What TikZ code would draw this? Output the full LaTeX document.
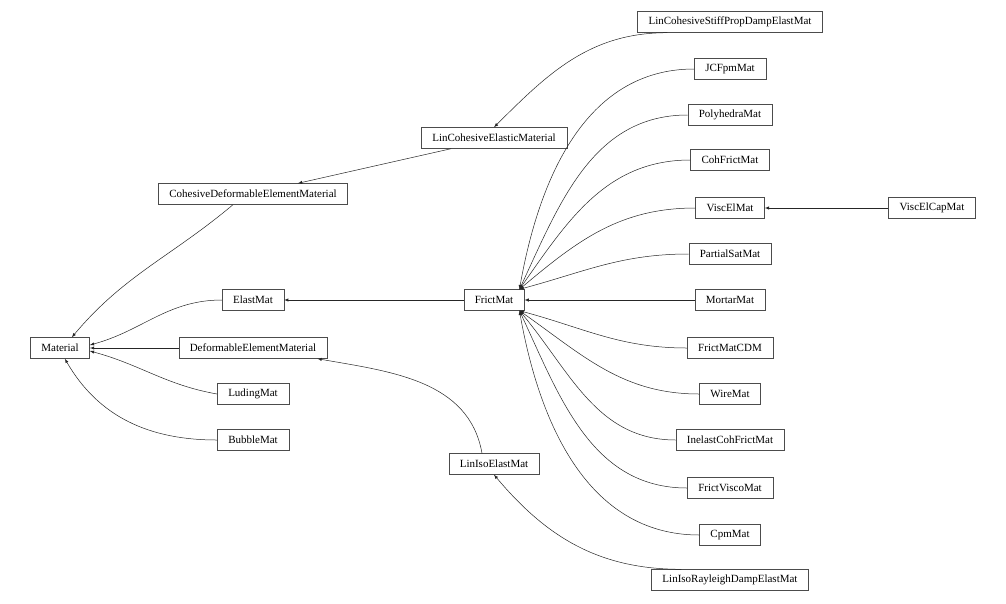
\documentclass[tikz,border=0pt]{standalone}
\usepackage{fontspec}
\setmainfont{Liberation Serif}
\usetikzlibrary{arrows}

\tikzset{
  cls/.style={draw=black!70, fill=white, font=\fontsize{11}{13}\selectfont,
    inner xsep=11pt, minimum height=21pt},
  inh/.style={-latex, black!85, line width=0.5pt}
}

\begin{document}
\begin{tikzpicture}[x=1pt, y=-1pt]
  \useasboundingbox (0,0) rectangle (1006,603);
  % classes
  \node[cls] (Material) at (60,348) {Material};
  \node[cls] (CohDefElemMat) at (253,194) {CohesiveDeformableElementMaterial};
  \node[cls] (ElastMat) at (253,300) {ElastMat};
  \node[cls] (DefElemMat) at (253,348) {DeformableElementMaterial};
  \node[cls] (LudingMat) at (253,394) {LudingMat};
  \node[cls] (BubbleMat) at (253,440) {BubbleMat};
  \node[cls] (LinCohElast) at (494,138) {LinCohesiveElasticMaterial};
  \node[cls] (FrictMat) at (494,300) {FrictMat};
  \node[cls] (LinIsoElast) at (494,464) {LinIsoElastMat};
  \node[cls] (LinCohStiff) at (730,22) {LinCohesiveStiffPropDampElastMat};
  \node[cls] (JCFpmMat) at (730,69) {JCFpmMat};
  \node[cls] (PolyhedraMat) at (730,115) {PolyhedraMat};
  \node[cls] (CohFrictMat) at (730,160) {CohFrictMat};
  \node[cls] (ViscElMat) at (730,208) {ViscElMat};
  \node[cls] (PartialSatMat) at (730,254) {PartialSatMat};
  \node[cls] (MortarMat) at (730,300) {MortarMat};
  \node[cls] (FrictMatCDM) at (730,348) {FrictMatCDM};
  \node[cls] (WireMat) at (730,394) {WireMat};
  \node[cls] (InelCohFrict) at (730,440) {InelastCohFrictMat};
  \node[cls] (FrictViscoMat) at (730,488) {FrictViscoMat};
  \node[cls] (CpmMat) at (730,535) {CpmMat};
  \node[cls] (LinIsoRayleigh) at (730,580) {LinIsoRayleighDampElastMat};
  \node[cls] (ViscElCapMat) at (932,208) {ViscElCapMat};
  % inheritance
  \draw[inh] ([xshift=-20pt]CohDefElemMat.south) to[out=-140, in=50] ([xshift=-18pt]Material.north east);
  \draw[inh] (ElastMat.west) to[out=180, in=15] ([yshift=3pt]Material.east);
  \draw[inh] (DefElemMat.west) -- (Material.east);
  \draw[inh] (LudingMat.west) to[out=170, in=-15] ([yshift=-3pt]Material.east);
  \draw[inh] (BubbleMat.west) to[out=180, in=-60] ([xshift=-25pt]Material.south east);
  \draw[inh] ([xshift=30pt]LinCohElast.south west) -- ([xshift=-50pt]CohDefElemMat.north east);
  \draw[inh] ([xshift=30pt]LinCohStiff.south west) to[out=180, in=45] (LinCohElast.north);
  \draw[inh] (FrictMat.west) -- (ElastMat.east);
  \draw[inh] ([xshift=-12pt]LinIsoElast.north) to[out=100, in=-10] ([xshift=-10pt]DefElemMat.south east);
  \draw[inh] ([xshift=30pt]LinIsoRayleigh.north west) to[out=180, in=-50] (LinIsoElast.south);
  \draw[inh] (ViscElCapMat.west) -- (ViscElMat.east);
  \foreach \c/\a in {JCFpmMat/80, PolyhedraMat/65, CohFrictMat/55, ViscElMat/40, PartialSatMat/15}
    \draw[inh] (\c.west) to[out=180, in=\a] ([xshift=-5pt]FrictMat.north east);
  \draw[inh] (MortarMat.west) -- (FrictMat.east);
  \foreach \c/\a in {FrictMatCDM/-15, WireMat/-35, InelCohFrict/-50, FrictViscoMat/-65, CpmMat/-80}
    \draw[inh] (\c.west) to[out=180, in=\a] ([xshift=-5pt]FrictMat.south east);
\end{tikzpicture}
\end{document}
